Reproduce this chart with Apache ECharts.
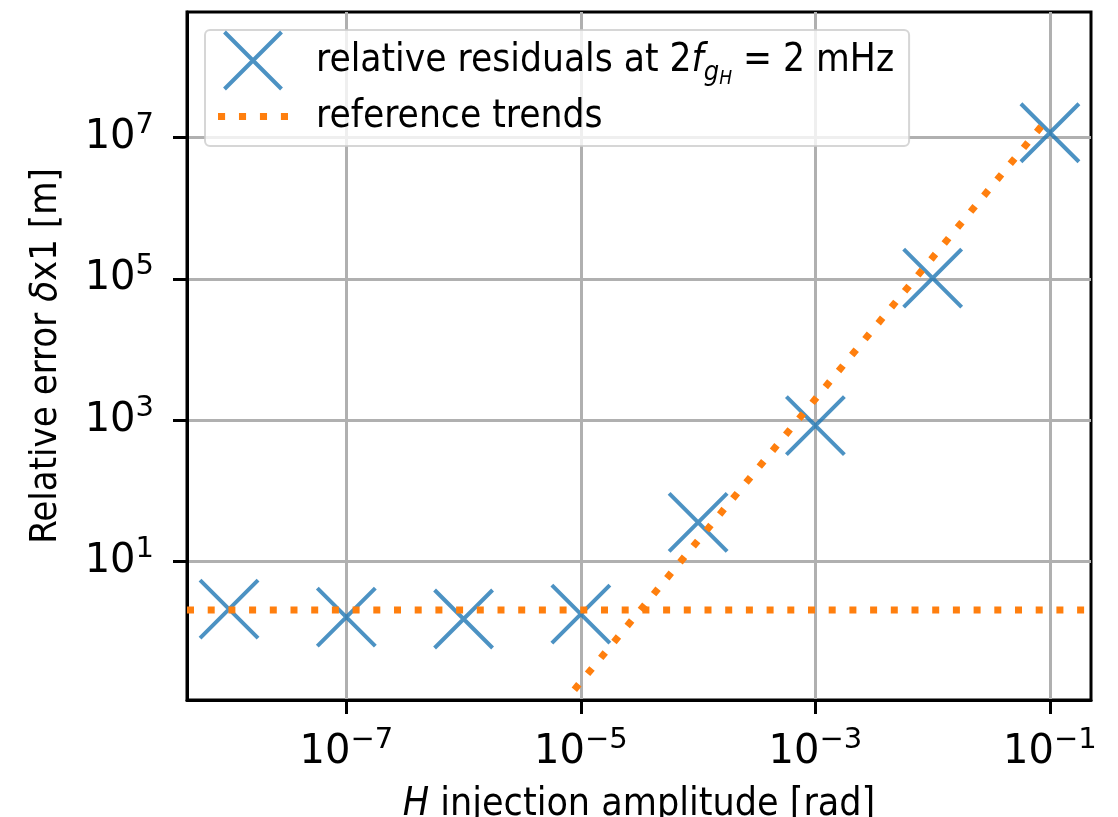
<!DOCTYPE html>
<html><head><meta charset="utf-8">
<script src="https://cdn.jsdelivr.net/npm/echarts@6/dist/echarts.min.js"></script>
<style>html,body{margin:0;padding:0;background:#fff}#c{width:1118px;height:817px}</style>
</head><body><div id="c"></div>
<script>
// ---- data ----
const injectionAmplitude = [1e-8, 1e-7, 1e-6, 1e-5, 1e-4, 1e-3, 1e-2, 1e-1];
const relativeResidual = [2.14, 1.65, 1.55, 1.82, 36, 840, 1.02e5, 1.16e7];
const flatTrendX = [4.38e-9, 0.224];
const flatTrendY = [2.07, 2.07];
const slopeTrendX = [8.8e-6, 0.1];
const slopeTrendY = [0.155, 2.0e7];
const xTickValues = [1e-7, 1e-5, 1e-3, 1e-1];
const yTickValues = [1e1, 1e3, 1e5, 1e7];
const xRange = [4.38e-9, 0.224];
const yRange = [0.111, 5.9e8];
const residualName = 'relative residuals at 2f_gH = 2 mHz';
const trendName = 'reference trends';

const FF = "'DejaVu Sans Condensed', 'DejaVu Sans', sans-serif";
const FT = "'DejaVu Sans', sans-serif";
const FS = 38.5;
const X_PATH = 'path://M0,0L100,100M100,0L0,100';
const DOTS_PATH = 'path://M0,0h7v7h-7zM20.7,0h7v7h-7zM41.4,0h7v7h-7zM62.1,0h7v7h-7z';
const BLUE = '#1f77b4', ORANGE = '#ff7f0e';

function pow10Label(v) {
  const e = Math.round(Math.log10(v));
  return '{b|10}{s|' + (e < 0 ? '\u2212' : '') + Math.abs(e) + '}';
}
const tickRich = {
  b: {fontSize: 40, fontFamily: FT, color: '#000'},
  s: {fontSize: 29, fontFamily: FT, color: '#000', padding: [0, 0, 24, 0]}
};
const txt = {fontSize: FS, fontFamily: FF, color: '#000'};
const ital = {fontSize: FS, fontFamily: FF, color: '#000', fontStyle: 'italic'};
const txtX = {fontSize: 39, fontFamily: FF, color: '#000'};
const italX = {fontSize: 39, fontFamily: FF, color: '#000', fontStyle: 'italic'};
const txtY = {fontSize: 38, fontFamily: FF, color: '#000'};
const italY = {fontSize: 38, fontFamily: FF, color: '#000', fontStyle: 'italic'};

const pairs = (xs, ys) => xs.map((x, i) => [x, ys[i]]);

const chart = echarts.init(document.getElementById('c'), null, {renderer: 'canvas'});
chart.setOption({
  animation: false,
  backgroundColor: '#fff',
  grid: {left: 187, right: 27, top: 12, bottom: 117, show: true, borderColor: '#000', borderWidth: 3,
    backgroundColor: 'transparent', containLabel: false, outerBoundsMode: 'none'},
  legend: {
    left: 205, top: 30, orient: 'vertical',
    itemWidth: 70, itemHeight: 57, itemGap: 6,
    padding: [0, 15, 10, 13],
    backgroundColor: 'rgba(255,255,255,0.8)',
    borderColor: 'rgba(204,204,204,0.8)', borderWidth: 2, borderRadius: 5,
    textStyle: {fontSize: FS, fontFamily: FF, color: '#000', padding: [0, 0, 0, 23],
      rich: {
        t: txt, f: ital,
        g: {fontSize: 27, fontFamily: FF, color: '#000', fontStyle: 'italic', padding: [24, 0, 0, 0]},
        h: {fontSize: 19, fontFamily: FF, color: '#000', fontStyle: 'italic', padding: [38, 0, 0, 0]}
      }},
    formatter: function (name) {
      if (name === residualName) return '{t|relative residuals at 2}{f|f}{g|g}{h|H}{t| = 2 mHz}';
      return '{t|' + name + '}';
    },
    data: [
      {name: residualName, icon: X_PATH, itemStyle: {color: 'rgba(0,0,0,0)', borderColor: BLUE, borderWidth: 4}},
      {name: trendName, icon: DOTS_PATH, itemStyle: {color: ORANGE, borderWidth: 0}}
    ]
  },
  xAxis: {
    type: 'log', logBase: 10, min: xRange[0], max: xRange[1],
    name: '{i|H}{t| injection amplitude [rad]}', nameLocation: 'middle', nameGap: 85,
    nameTextStyle: {fontSize: 39, fontFamily: FF, color: '#000', rich: {i: italX, t: txtX}},
    axisLine: {show: true, lineStyle: {color: '#000', width: 3}},
    axisTick: {show: true, customValues: xTickValues, length: 14, lineStyle: {color: '#000', width: 3}},
    axisLabel: {customValues: xTickValues, margin: 26, formatter: pow10Label, rich: tickRich},
    splitLine: {show: true, lineStyle: {color: '#b0b0b0', width: 3}},
    minorTick: {show: false}, minorSplitLine: {show: false}
  },
  yAxis: {
    type: 'log', logBase: 10, min: yRange[0], max: yRange[1],
    name: '{t|Relative error }{i|\u03b4}{t|x1 [m]}', nameLocation: 'middle', nameGap: 122, nameRotate: 90,
    nameTextStyle: {fontSize: 38, fontFamily: FF, color: '#000', rich: {i: italY, t: txtY}},
    axisLine: {show: true, lineStyle: {color: '#000', width: 3}},
    axisTick: {show: true, customValues: yTickValues, length: 14, lineStyle: {color: '#000', width: 3}},
    axisLabel: {customValues: yTickValues, margin: 33, formatter: pow10Label, rich: tickRich},
    splitLine: {show: true, lineStyle: {color: '#b0b0b0', width: 3}},
    minorTick: {show: false}, minorSplitLine: {show: false}
  },
  series: [
    {
      type: 'scatter', name: residualName, data: pairs(injectionAmplitude, relativeResidual),
      symbol: X_PATH, symbolSize: 58,
      itemStyle: {color: 'rgba(0,0,0,0)', borderColor: BLUE, borderWidth: 4}, z: 2
    },
    {
      type: 'line', name: trendName, data: pairs(flatTrendX, flatTrendY),
      symbol: 'none', showSymbol: false, color: ORANGE,
      lineStyle: {color: ORANGE, width: 7, type: [7, 13.7], cap: 'butt'}, z: 3
    },
    {
      type: 'line', name: trendName, data: pairs(slopeTrendX, slopeTrendY),
      symbol: 'none', showSymbol: false, color: ORANGE,
      lineStyle: {color: ORANGE, width: 7, type: [7, 13.7], cap: 'butt'}, z: 3
    }
  ]
});
</script></body></html>
